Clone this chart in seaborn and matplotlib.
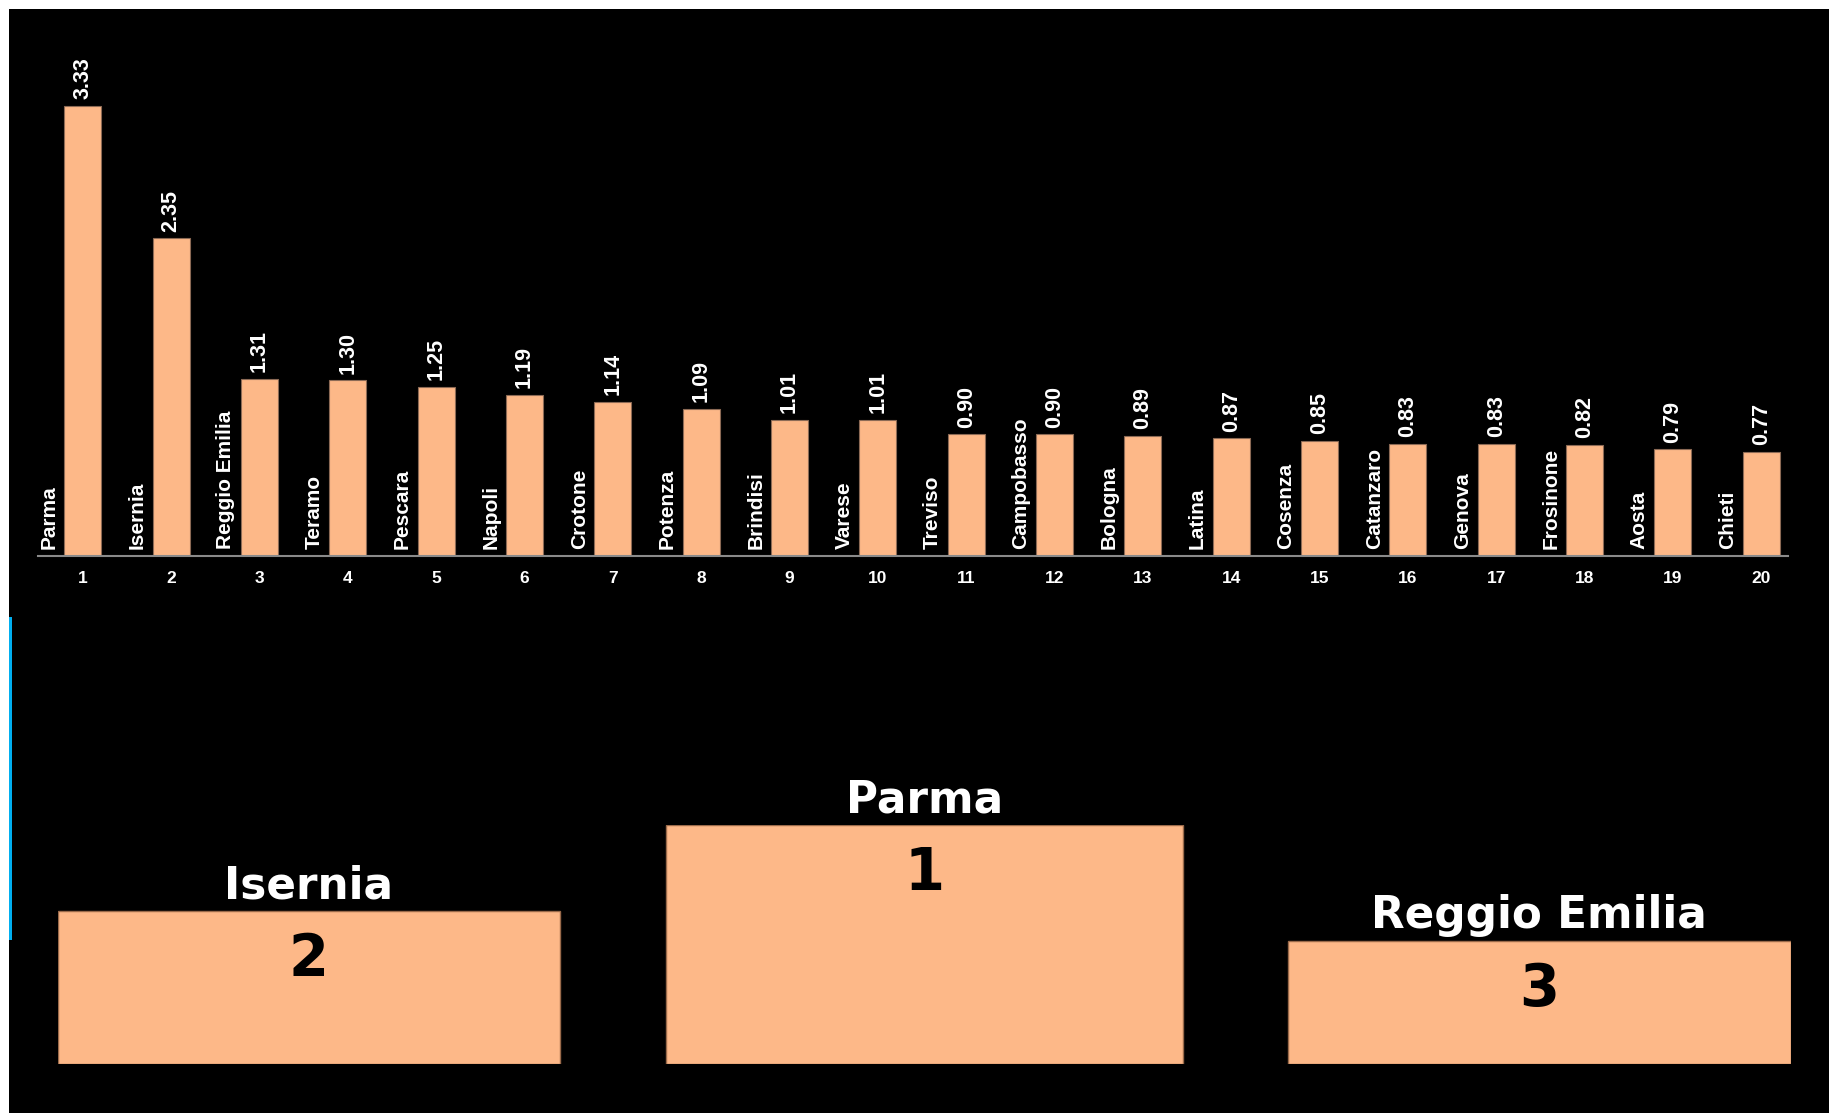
import matplotlib
matplotlib.use("Agg")
import matplotlib.pyplot as plt
import seaborn as sns
import pandas as pd
from matplotlib.patches import Rectangle

# ---------------- data ----------------
cities = ["Parma", "Isernia", "Reggio Emilia", "Teramo", "Pescara", "Napoli",
          "Crotone", "Potenza", "Brindisi", "Varese", "Treviso", "Campobasso",
          "Bologna", "Latina", "Cosenza", "Catanzaro", "Genova", "Frosinone",
          "Aosta", "Chieti"]
values = [3.33, 2.35, 1.31, 1.30, 1.25, 1.19, 1.14, 1.09, 1.01, 1.01,
          0.90, 0.90, 0.89, 0.87, 0.85, 0.83, 0.83, 0.82, 0.79, 0.77]
ranks = ["1", "2", "3", "4", "5", "6", "7", "8", "9", "10",
         "11", "12", "13", "14", "15", "16", "17", "18", "19", "20"]

podium_cities = ["Isernia", "Parma", "Reggio Emilia"]
podium_ranks = ["2", "1", "3"]
podium_heights = [0.64, 1.0, 0.515]

# ---------------- style ----------------
PEACH = "#FDB888"
EDGE = "#8c6a55"
W, H = 1829, 1113
BAR_FONT = ["Liberation Sans", "DejaVu Sans"]
POD_FONT = ["DejaVu Sans"]
POD_WIDTHS = [0.816, 0.840, 0.818]

fig = plt.figure(figsize=(W / 100, H / 100), dpi=100, facecolor="white")
fig.add_artist(Rectangle((9 / W, 0), 1, (H - 9) / H, transform=fig.transFigure,
                         facecolor="black", edgecolor="none", zorder=0))
fig.add_artist(Rectangle((9 / W, (H - 940) / H), 3 / W, (940 - 617) / H,
                         transform=fig.transFigure, facecolor="#00AEEF",
                         edgecolor="none", zorder=1))

# ---------------- top bar chart ----------------
df = pd.DataFrame({"city": cities, "value": values})
ax = fig.add_axes([38 / W, (H - 556) / H, 1750 / W, 516 / H])
ax.set_facecolor("none")
sns.barplot(data=df, x="city", y="value", order=cities, color=PEACH,
            saturation=1, width=0.42, edgecolor=EDGE, linewidth=0.8, ax=ax)
ax.set_xlim(-0.507, 19.304)
ax.set_ylim(0, 3.819)
ax.set_xticks(range(len(ranks)))
ax.set_xticklabels(ranks, fontsize=12.5, fontweight="bold", color="white",
                   family=BAR_FONT)
ax.tick_params(axis="x", length=0, pad=11)
ax.set_yticks([])
ax.set_xlabel("")
ax.set_ylabel("")
for s in ["top", "left", "right"]:
    ax.spines[s].set_visible(False)
ax.spines["bottom"].set_color("#8a8a8a")
ax.spines["bottom"].set_linewidth(1.5)

for i, (c, v) in enumerate(zip(cities, values)):
    ax.text(i, v + 0.05, f"{v:.2f}", rotation=90, ha="center", va="bottom",
            color="white", fontsize=15.5, fontweight="bold", family=BAR_FONT)
    ax.text(i - 0.38, 0.055, c, rotation=90, ha="center", va="bottom",
            color="white", fontsize=15, fontweight="bold", family=BAR_FONT)

# ---------------- podium ----------------
ax2 = fig.add_axes([58 / W, 49 / H, 1733 / W, 239 / H])
ax2.set_facecolor("none")
sns.barplot(x=podium_cities, y=podium_heights, order=podium_cities, color=PEACH,
            saturation=1, width=0.83, edgecolor="#9a6a4a", linewidth=1.0, ax=ax2)
for i, (p, w) in enumerate(zip(ax2.patches, POD_WIDTHS)):
    p.set_x(i - w / 2)
    p.set_width(w)
ax2.set_xlim(-0.408, 2.409)
ax2.set_ylim(0, 1)
ax2.axis("off")
for i, (c, r, h) in enumerate(zip(podium_cities, podium_ranks, podium_heights)):
    ax2.text(i, h + 0.054, c, ha="center", va="baseline", color="white",
             fontsize=31.5, fontweight="bold", family=POD_FONT, clip_on=False)
    ax2.text(i, h - 0.273, r, ha="center", va="baseline", color="black",
             fontsize=41.5, fontweight="bold", family=POD_FONT, clip_on=False)

fig.savefig("out.png", dpi=100, facecolor="white")
